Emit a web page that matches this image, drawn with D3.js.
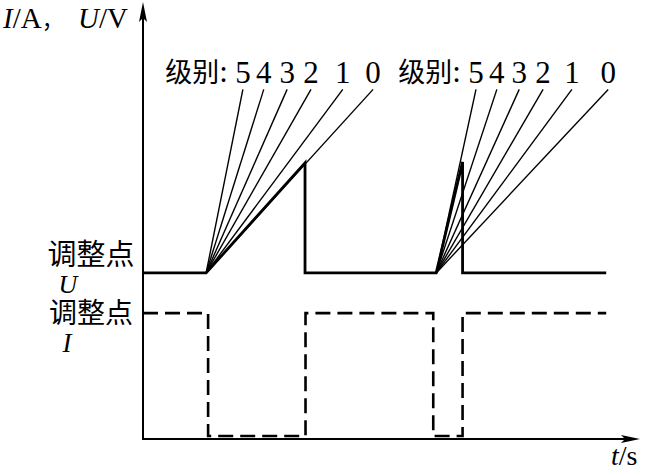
<!DOCTYPE html>
<html>
<head>
<meta charset="utf-8">
<script src="https://cdn.jsdelivr.net/npm/d3@7"></script>
<style>
  body { margin: 0; background: #fff; }
  svg { display: block; }
  text { font-family: "Liberation Serif", "Noto Sans CJK SC", serif; fill: #000; }
  .cjk { font-family: "Noto Sans CJK SC", sans-serif; }
</style>
</head>
<body>
<div id="chart"></div>
<script>
// voltage curve (solid): time, value
var uTimes  = [0, 12.7, 32.6, 32.6, 59.0, 64.3, 64.3, 93.2];
var uValues = [38, 38, 63.2, 38, 38, 63.4, 38, 38];

// current curve (dashed)
var iTimes  = [0, 13.1, 13.1, 32.7, 32.7, 58.4, 58.4, 64.3, 64.3, 93.2];
var iValues = [28.8, 28.8, 0.7, 0.7, 28.8, 28.8, 0.7, 0.7, 28.8, 28.8];

// fan of level lines, one per ramp start
var levels = ['5', '4', '3', '2', '1', '0'];
var fanStarts = [12.7, 59.0];
var fanEnds = [
  [20.1, 24.3, 29.0, 33.8, 40.2, 46.3],
  [67.0, 71.2, 75.7, 80.5, 86.3, 93.6]
];
var fanTop = 80;
var uBase = 38;
var iHigh = 28.8;

var width = 646, height = 471;

var svg = d3.select('#chart').append('svg')
  .attr('width', width)
  .attr('height', height);

svg.append('rect').attr('width', width).attr('height', height).attr('fill', '#fff');

var x = d3.scaleLinear().domain([0, 100]).range([143, 640]);
var y = d3.scaleLinear().domain([0, 100]).range([439, 2]);

// axes with arrow heads
svg.append('line')
  .attr('x1', x(0)).attr('y1', y(0))
  .attr('x2', x(100) - 10).attr('y2', y(0))
  .attr('stroke', '#000').attr('stroke-width', 2);
svg.append('line')
  .attr('x1', x(0)).attr('y1', y(0) + 1)
  .attr('x2', x(0)).attr('y2', y(100) + 10)
  .attr('stroke', '#000').attr('stroke-width', 2);

svg.append('path')
  .attr('d', 'M' + x(100) + ',' + y(0) + 'l-19,-4 l4,4 l-4,4 z')
  .attr('fill', '#000');
svg.append('path')
  .attr('d', 'M' + x(0) + ',' + y(100) + 'l-4,20 l4,-4 l4,4 z')
  .attr('fill', '#000');

var line = d3.line()
  .x(function(d) { return x(d[0]); })
  .y(function(d) { return y(d[1]); });

// fan lines
fanStarts.forEach(function(t0, g) {
  svg.append('g').selectAll('line')
    .data(fanEnds[g])
    .enter().append('line')
    .attr('x1', x(t0)).attr('y1', y(uBase))
    .attr('x2', function(d) { return x(d); })
    .attr('y2', y(fanTop))
    .attr('stroke', '#000')
    .attr('stroke-width', 1.4);

  svg.append('g').selectAll('text')
    .data(fanEnds[g])
    .enter().append('text')
    .attr('x', function(d) { return x(d); })
    .attr('y', y(fanTop) - 6)
    .attr('text-anchor', 'middle')
    .attr('font-size', 31)
    .text(function(d, i) { return levels[i]; });

  var lbl = svg.append('text')
    .attr('x', x(fanEnds[g][0]) - 15)
    .attr('y', y(fanTop) - 7)
    .attr('text-anchor', 'end')
    .attr('font-size', 27);
  lbl.append('tspan').attr('class', 'cjk').text('级别');
  lbl.append('tspan').attr('font-size', 31).text(':');
});

svg.append('path')
  .datum(d3.zip(uTimes, uValues))
  .attr('d', line)
  .attr('fill', 'none')
  .attr('stroke', '#000')
  .attr('stroke-width', 2.8)
  .attr('stroke-linejoin', 'miter');

svg.append('path')
  .datum(d3.zip(iTimes, iValues))
  .attr('d', line)
  .attr('fill', 'none')
  .attr('stroke', '#000')
  .attr('stroke-width', 2.6)
  .attr('stroke-dasharray', '15,7');

// left labels, stacked as one text block
var side = svg.append('text').attr('text-anchor', 'middle');
side.append('tspan').attr('class', 'cjk')
  .attr('x', 91).attr('y', y(uBase) - 8).attr('font-size', 29)
  .text('调整点');
side.append('tspan')
  .attr('x', 68).attr('y', y(uBase) + 20).attr('font-size', 26)
  .attr('font-style', 'italic')
  .text('U');
side.append('tspan').attr('class', 'cjk')
  .attr('x', 91).attr('y', y(iHigh) + 10).attr('font-size', 28)
  .text('调整点');
side.append('tspan')
  .attr('x', 67).attr('y', y(iHigh) + 39).attr('font-size', 27)
  .attr('font-style', 'italic')
  .text('I');

// axis titles
var yt = svg.append('text').attr('x', 3).attr('y', 28).attr('font-size', 29);
yt.append('tspan').attr('font-style', 'italic').text('I');
yt.append('tspan').text('/A');
yt.append('tspan').attr('class', 'cjk').attr('font-size', 22).text('，');
yt.append('tspan').attr('x', 78).attr('font-style', 'italic').text('U');
yt.append('tspan').text('/V');

var xt = svg.append('text').attr('x', 611).attr('y', 465).attr('font-size', 28);
xt.append('tspan').attr('font-style', 'italic').text('t');
xt.append('tspan').text('/s');
</script>
</body>
</html>
